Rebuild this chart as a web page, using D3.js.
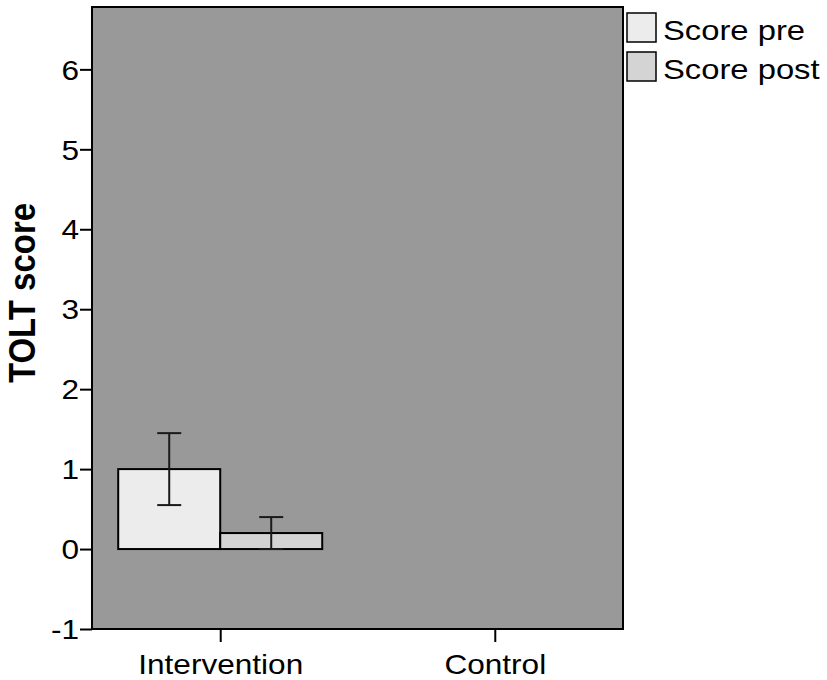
<!DOCTYPE html>
<html><head><meta charset="utf-8">
<script src="https://cdn.jsdelivr.net/npm/d3@7/dist/d3.min.js"></script>
<style>body{margin:0;background:#fff}svg{display:block}text{font-family:"Liberation Sans",Arial,sans-serif;fill:#000}</style>
</head><body><svg id="c" width="827" height="680"></svg>
<script>
const groups = ["Intervention", "Control"];
const seriesNames = ["Score pre", "Score post"];
const preMean = [1.0, null];
const preLow = [0.55, null];
const preHigh = [1.45, null];
const postMean = [0.2, null];
const postLow = [0.0, null];
const postHigh = [0.4, null];
const yTicks = [-1, 0, 1, 2, 3, 4, 5, 6];
const yTitle = "TOLT score";

const svg = d3.select("#c");
const L = 92, R = 623, T = 7, B = 629;
const sx = 1.17;
const y = d3.scaleLinear().domain([-1, 6.78]).range([B, T]);
const x = d3.scalePoint().domain(groups).range([L, R]).padding(0.467);
const sub = d3.scaleBand().domain(seriesNames).range([-102, 102]).padding(0);
const fills = ["#ececec", "#d4d4d4"];

svg.append("rect").attr("x", L).attr("y", T).attr("width", R - L).attr("height", B - T)
  .attr("fill", "#999999").attr("stroke", "#000").attr("stroke-width", 2);

// y axis
const ya = svg.append("g").attr("transform", `translate(${L},0)`)
  .call(d3.axisLeft(y).tickValues(yTicks).tickSize(12).tickPadding(0).tickFormat(d => String(d)));
ya.select(".domain").remove();
ya.selectAll(".tick line").attr("stroke", "#000").attr("stroke-width", 2);
ya.selectAll(".tick text").attr("font-size", 27).attr("x", null)
  .attr("transform", `translate(-13,0) scale(${sx},1)`).attr("dy", "0.36em");

// x axis
const xa = svg.append("g").attr("transform", `translate(0,${B})`)
  .call(d3.axisBottom(x).tickSize(13).tickPadding(0));
xa.select(".domain").remove();
xa.selectAll(".tick line").attr("stroke", "#000").attr("stroke-width", 2);
xa.selectAll(".tick text").attr("font-size", 27).attr("y", null).attr("dy", null)
  .attr("transform", `translate(0,45) scale(${sx},1)`);

// y title
svg.append("text").attr("transform", `translate(35,293) rotate(-90) scale(1.0,1.12)`)
  .attr("text-anchor", "middle").attr("font-size", 33).attr("font-weight", "bold").text(yTitle);

// bars
const series = [
  {name: seriesNames[0], mean: preMean, lo: preLow, hi: preHigh},
  {name: seriesNames[1], mean: postMean, lo: postLow, hi: postHigh}
];
series.forEach((s, si) => {
  groups.forEach((g, gi) => {
    if (s.mean[gi] == null) return;
    const x0 = x(g) + sub(s.name);
    const w = sub.bandwidth();
    svg.append("rect").attr("x", x0).attr("y", y(s.mean[gi])).attr("width", w)
      .attr("height", y(0) - y(s.mean[gi])).attr("fill", fills[si]).attr("stroke", "#000").attr("stroke-width", 2);
    const cx = x0 + w / 2;
    const e = svg.append("g").attr("stroke", "#1a1a1a").attr("stroke-width", 2);
    e.append("line").attr("x1", cx).attr("x2", cx).attr("y1", y(s.hi[gi])).attr("y2", y(s.lo[gi]));
    e.append("line").attr("x1", cx - 12).attr("x2", cx + 12).attr("y1", y(s.hi[gi])).attr("y2", y(s.hi[gi]));
    e.append("line").attr("x1", cx - 12).attr("x2", cx + 12).attr("y1", y(s.lo[gi])).attr("y2", y(s.lo[gi]));
  });
});

// legend
seriesNames.forEach((n, i) => {
  const ly = 13 + i * 39;
  svg.append("rect").attr("x", 627).attr("y", ly).attr("width", 29).attr("height", 29)
    .attr("fill", fills[i]).attr("stroke", "#000").attr("stroke-width", 1.5);
  svg.append("text").attr("transform", `translate(663,${ly + 27}) scale(${sx},1)`)
    .attr("font-size", 28).text(n);
});
</script></body></html>
